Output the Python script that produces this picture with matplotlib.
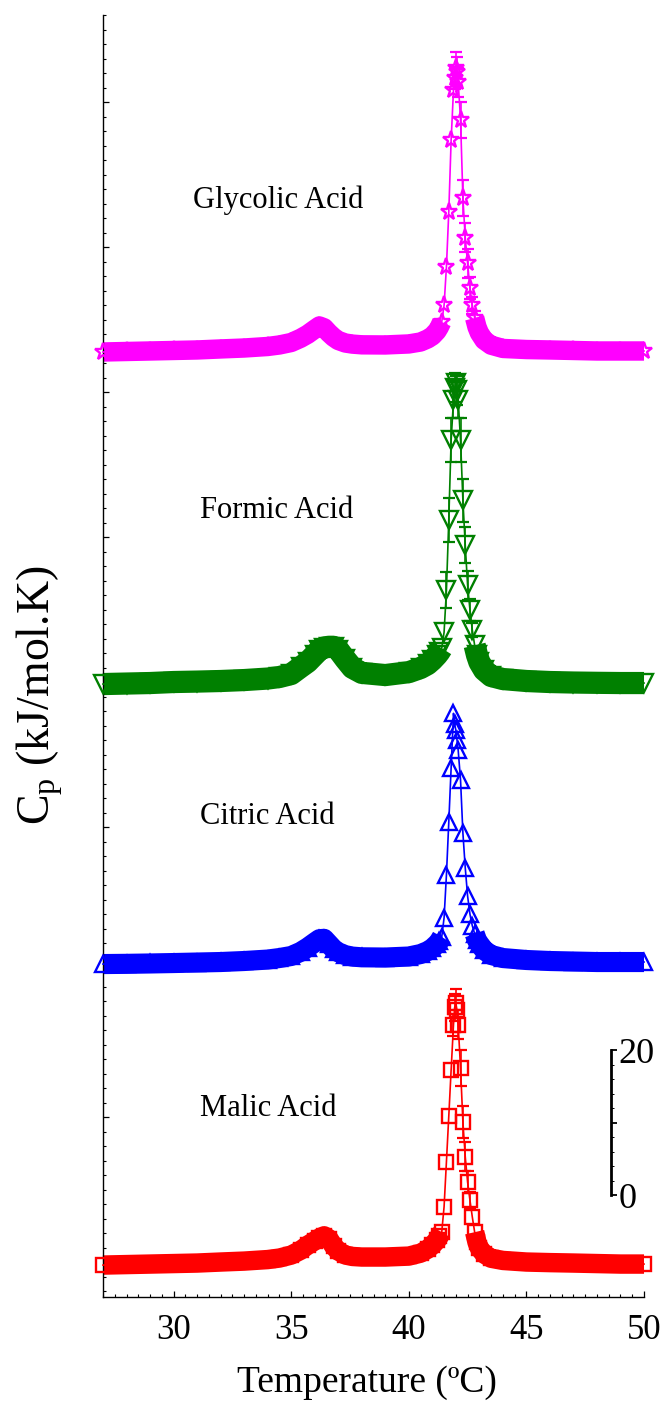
import matplotlib
matplotlib.use('Agg')
import matplotlib.pyplot as plt
import numpy as np
from matplotlib.ticker import MultipleLocator, FixedLocator, FixedFormatter

plt.rcParams['font.family'] = ['Liberation Serif', 'DejaVu Serif']
plt.rcParams['mathtext.fontset'] = 'custom'
plt.rcParams['mathtext.rm'] = 'Liberation Serif'
plt.rcParams['mathtext.it'] = 'Liberation Serif:italic'

# ---------------- data ----------------
temperature = [27, 28, 29, 30, 31, 32, 33, 34, 34.5, 35,
               35.4, 35.7, 36.0, 36.2, 36.4, 36.6, 36.8, 37.0, 37.3, 37.6,
               38, 39, 40, 40.5, 40.8, 41.0, 41.2, 41.3, 41.4,
               41.5, 41.6, 41.7, 41.8, 41.9, 41.95, 42.0, 42.05,
               42.1, 42.2, 42.3, 42.4, 42.5, 42.6, 42.7, 42.8, 42.9, 43.0,
               43.2, 43.5, 44, 45, 46, 47, 48, 49, 50]

malic = [-0.14, -0.07, 0.0, 0.07, 0.14, 0.28, 0.41, 0.62, 0.83, 1.24,
         1.9, 2.6, 3.2, 3.6, 3.9, 3.5, 2.5, 1.8, 1.25, 1.05,
         0.97, 0.97, 1.1, 1.5, 2.05, 2.6, 3.3, 3.85, 4.4,
         7.9, 14.1, 20.4, 26.8, 33.0, 35.4, 36.0, 35.0,
         33.0, 27.0, 19.6, 14.8, 11.3, 8.8, 6.5, 4.4, 3.0, 2.2,
         1.4, 0.8, 0.5, 0.28, 0.2, 0.14, 0.07, 0.0, 0.0]

citric = [-0.28, -0.25, -0.2, -0.14, -0.07, 0.0, 0.14, 0.34, 0.55, 0.83,
          1.4, 2.0, 2.7, 3.15, 3.2, 2.5, 1.8, 1.35, 0.95, 0.75,
          0.65, 0.62, 0.76, 1.1, 1.5, 1.9, 2.5, 2.9, 3.45,
          6.1, 12.0, 19.3, 26.8, 34.3, 32.8, 32.0, 30.6,
          29.2, 25.1, 17.8, 13.0, 9.1, 6.6, 5.0, 3.9, 3.0, 2.5,
          1.65, 0.97, 0.55, 0.28, 0.14, 0.07, 0.0, 0.0, 0.0]

formic = [-0.14, -0.07, 0.0, 0.14, 0.2, 0.28, 0.41, 0.62, 0.83, 1.24,
          2.2, 2.9, 3.9, 4.55, 4.9, 5.0, 5.0, 4.6, 3.3, 2.1,
          1.4, 1.1, 1.5, 2.07, 2.6, 3.17, 3.86, 4.28, 4.8,
          7.0, 12.8, 22.5, 33.5, 39.0, 40.7, 41.4, 40.4,
          39.0, 33.5, 25.2, 19.0, 13.5, 10.1, 7.3, 5.2, 3.86, 2.9,
          1.8, 0.97, 0.55, 0.28, 0.14, 0.07, 0.03, 0.0, 0.0]

glycolic = [-0.14, -0.07, 0.0, 0.07, 0.14, 0.28, 0.41, 0.62, 0.83, 1.17,
            1.75, 2.3, 3.0, 3.45, 3.2, 2.5, 1.9, 1.45, 1.1, 0.95,
            0.85, 0.83, 0.97, 1.24, 1.66, 2.07, 2.76, 3.3, 4.0,
            6.3, 11.6, 19.2, 29.1, 36.0, 37.7, 39.0, 38.5,
            37.1, 31.9, 21.1, 15.6, 12.1, 8.7, 6.3, 4.55, 3.3, 2.5,
            1.5, 0.8, 0.35, 0.2, 0.14, 0.07, 0.0, 0.0, 0.0]

malic_err = [0] * 33 + [1.5, 1.9, 1.9, 0, 2.0, 2.5, 2.2, 2.0, 1.5, 1.2] + [0] * 13
citric_err = [0] * 56
formic_err = [0] * 30 + [2.5, 3.0, 3.0, 2.5, 2.0, 1.0, 2.0, 2.5, 3.0, 3.0, 2.5, 2.0, 1.5, 1.0] + [0] * 12
glycolic_err = [0] * 34 + [1.5, 2.2, 2.0, 2.0, 2.5, 2.5, 2.0, 2.0, 1.5, 1.2, 1.0] + [0] * 11

acid_names = ['Malic Acid', 'Citric Acid', 'Formic Acid', 'Glycolic Acid']
stack_offsets = [-0.28, 41.38, 79.86, 125.66]

scale_ticks = [0, 10, 20]
scale_labels = ['0', '', '20']

# ---------------- figure ----------------
fig = plt.figure(figsize=(6.68, 14.16), dpi=100)
ax = fig.add_axes([0.1542, 0.0840, 0.8099, 0.9054])

T = np.array(temperature)
left_band = T <= 41.4
right_band = T >= 42.8

styles = [
    dict(color='#ff0000', marker='s', ms=9.5, bw=14.0),
    dict(color='#0000ff', marker='^', ms=12.0, bw=14.5),
    dict(color='#008000', marker='v', ms=12.5, bw=16.0),
    dict(color='#ff00ff', marker='*', ms=12.5, bw=14.0),
]
series = [malic, citric, formic, glycolic]
errors = [malic_err, citric_err, formic_err, glycolic_err]
label_pos = [(34.04, 21.2), (33.99, 61.4), (34.37, 103.7), (34.46, 146.5)]

for vals, err, off, st, name, (lx, ly) in zip(series, errors, stack_offsets, styles,
                                             acid_names, label_pos):
    y = np.array(vals) + off
    c = st['color']
    for m in (left_band, right_band):
        ax.plot(T[m], y[m], color=c, lw=st['bw'], solid_capstyle='butt',
                solid_joinstyle='round', clip_on=False, zorder=2)
    ax.plot(T, y, color=c, lw=1.2, marker=st['marker'], ms=st['ms'],
            mfc='none', mec=c, mew=1.7, clip_on=False, zorder=3)
    e = np.array(err, dtype=float)
    m = e > 0
    if m.any():
        ax.errorbar(T[m], y[m], yerr=e[m], fmt='none', ecolor=c, elinewidth=1.2,
                    capsize=4, capthick=1.6, zorder=3)
    ax.text(lx, ly, name, ha='center', va='center', fontsize=22)

ax.set_xlim(27, 50)
ax.set_ylim(-4.83, 172)
ax.spines['top'].set_visible(False)
ax.spines['right'].set_visible(False)
for s in ('left', 'bottom'):
    ax.spines[s].set_linewidth(1.0)

ax.xaxis.set_major_locator(MultipleLocator(5))
ax.xaxis.set_minor_locator(MultipleLocator(0.5))
ax.yaxis.set_major_locator(MultipleLocator(20))
ax.yaxis.set_minor_locator(MultipleLocator(2))
ax.tick_params(axis='x', which='major', direction='in', length=4.5, width=0.9,
               labelsize=25, pad=12)
ax.tick_params(axis='x', which='minor', direction='in', length=2.2, width=0.8)
ax.tick_params(axis='y', which='major', direction='in', length=4.5, width=0.9,
               labelleft=False)
ax.tick_params(axis='y', which='minor', direction='in', length=2.2, width=0.8)

ax.set_xlabel('Temperature (ºC)', fontsize=27)
ax.xaxis.label.set_verticalalignment('center')
ax.xaxis.set_label_coords(0.488, -0.0671)

fig.text(40 / 668, 1 - 695 / 1416, 'C$_\\mathrm{p}$ (kJ/mol.K)', rotation=90,
         ha='center', va='center', fontsize=33)

# scale bar
sb = ax.inset_axes([48.3, 9.24, 0.3, 20], transform=ax.transData)
sb.set_ylim(0, 20)
sb.set_xlim(0, 1)
for s in ('top', 'left', 'bottom'):
    sb.spines[s].set_visible(False)
sb.spines['right'].set_linewidth(2.0)
sb.patch.set_alpha(0)
sb.set_xticks([])
sb.yaxis.tick_right()
sb.yaxis.set_major_locator(FixedLocator(scale_ticks))
sb.yaxis.set_major_formatter(FixedFormatter(scale_labels))
sb.yaxis.set_minor_locator(MultipleLocator(2))
sb.tick_params(axis='y', which='major', direction='out', length=4.5, width=1.3,
               labelsize=26, pad=1)
sb.tick_params(axis='y', which='minor', direction='out', length=1.8, width=0.7)

fig.savefig('out.png', dpi=100)
